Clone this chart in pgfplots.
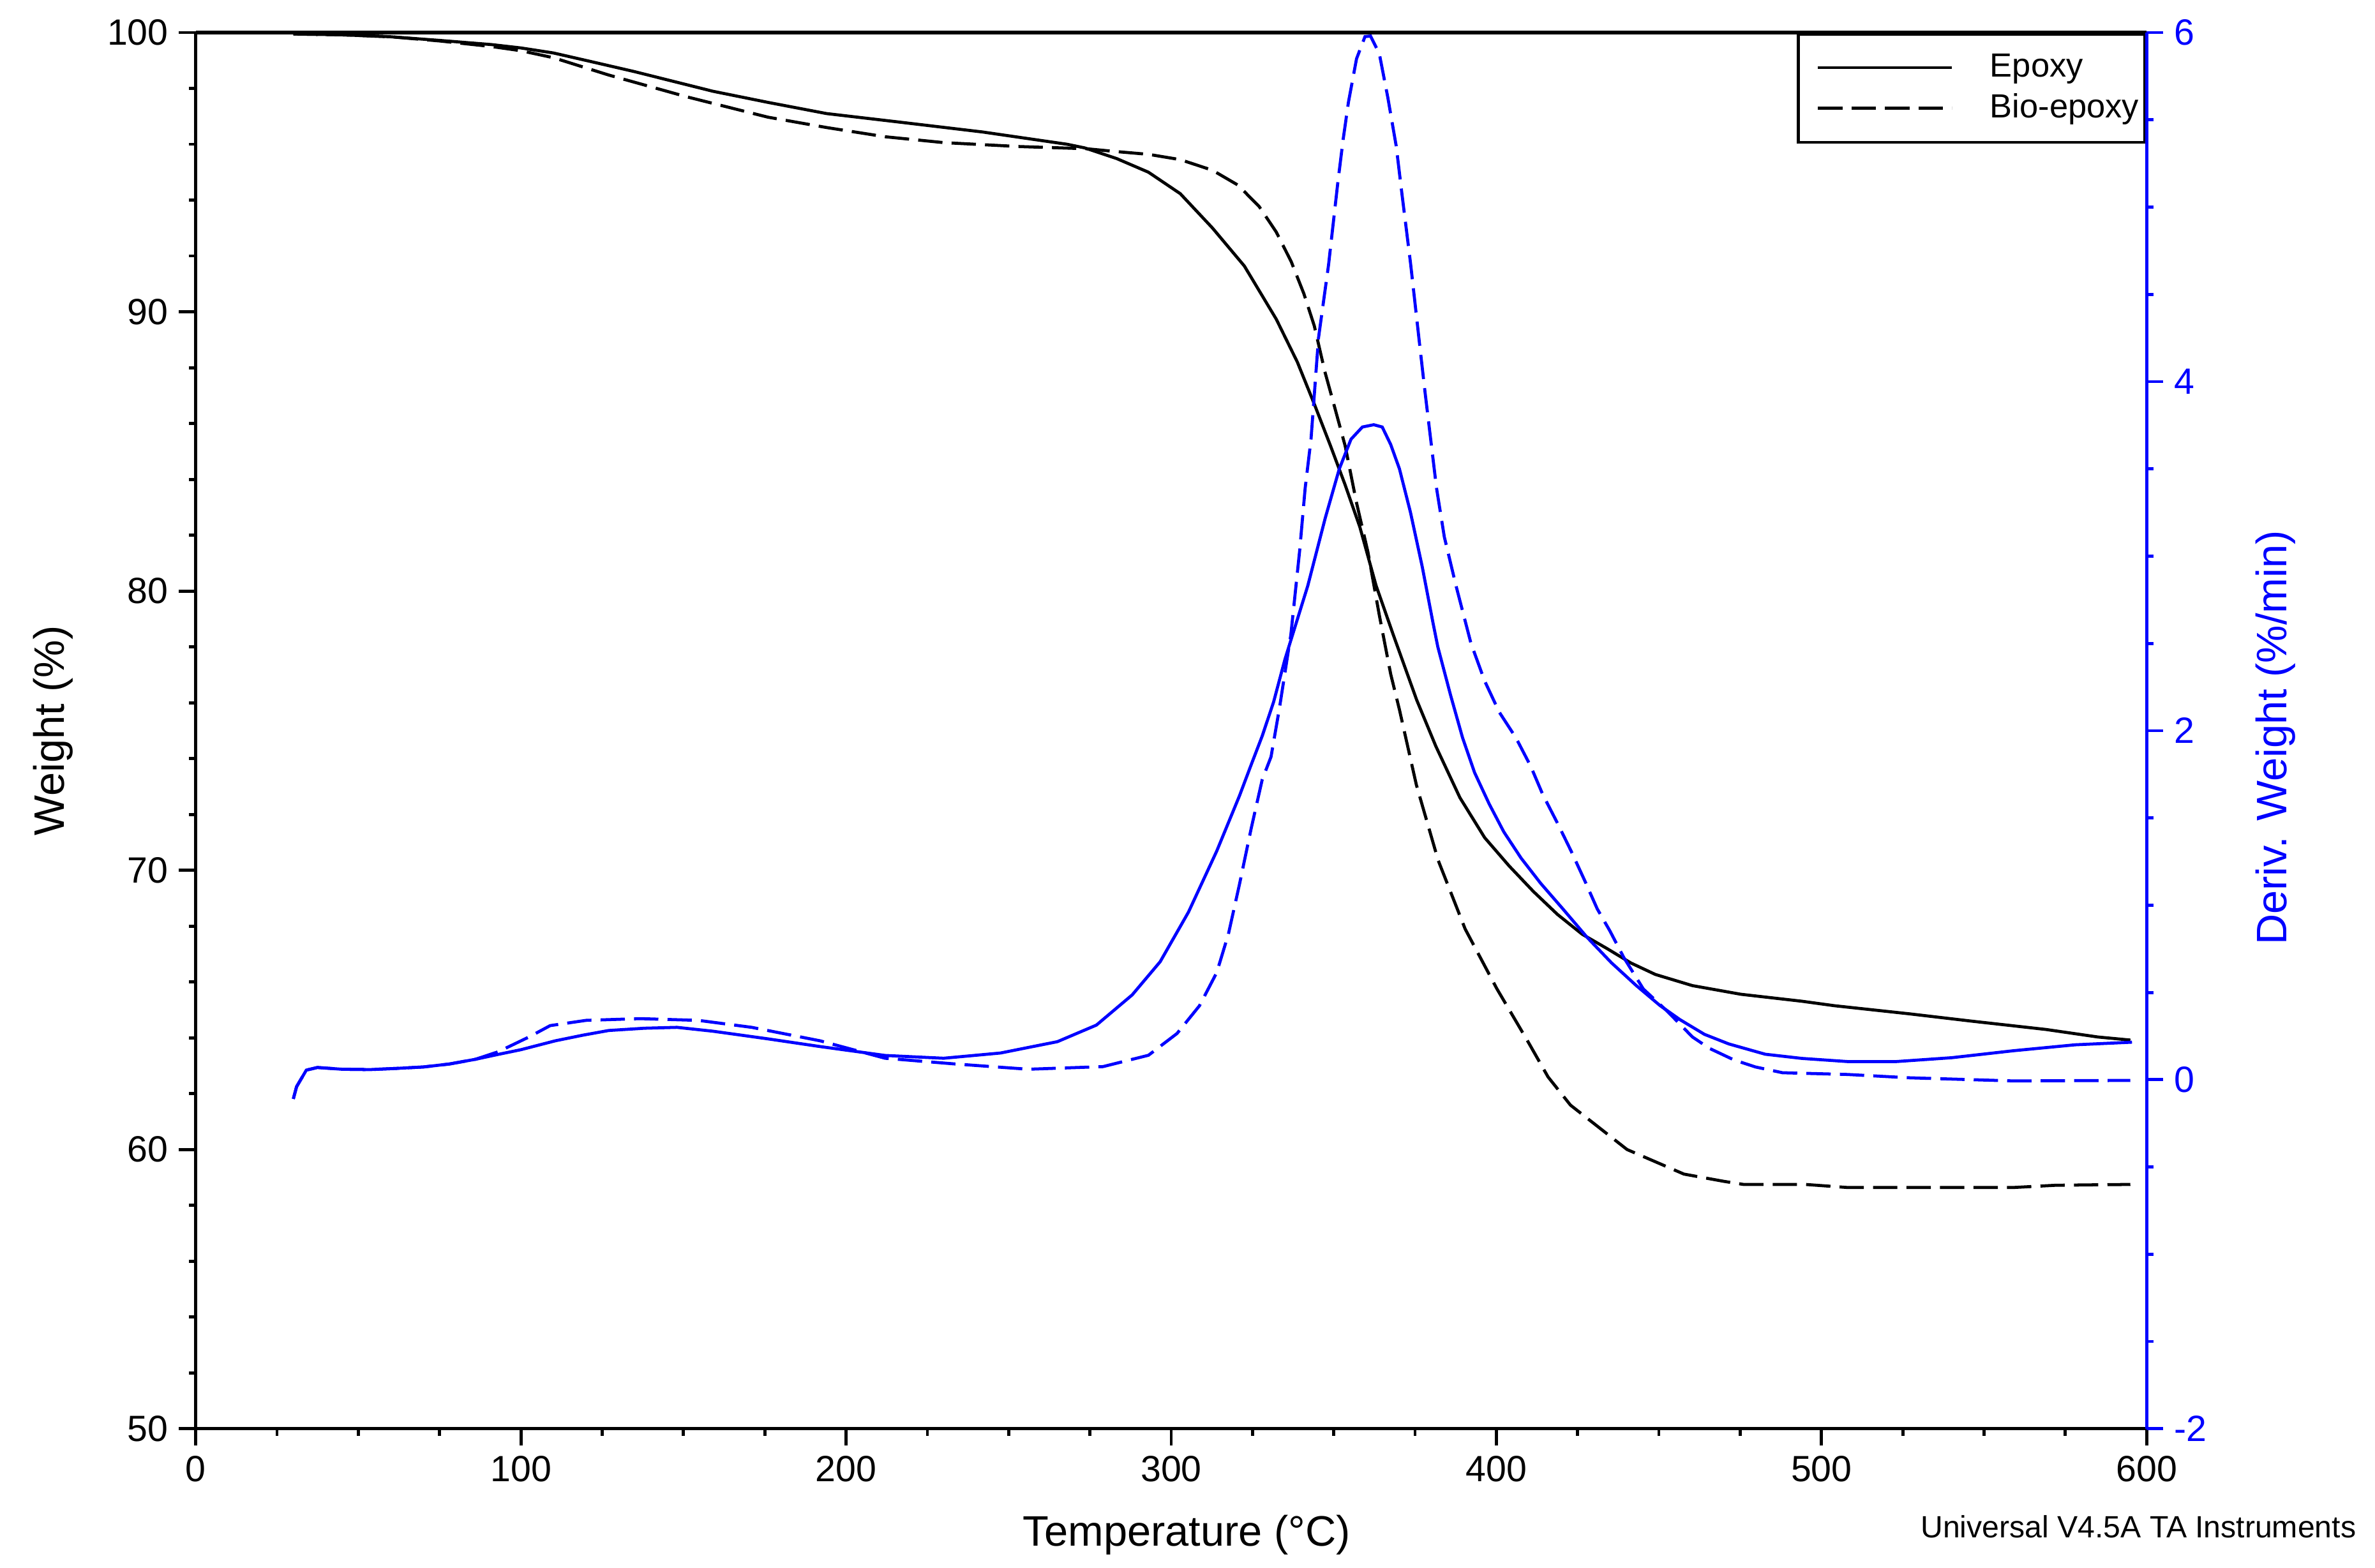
\documentclass[border=0pt]{standalone}
\usepackage{fontspec}
\setmainfont{Liberation Sans}
\usepackage{pgfplots}
\pgfplotsset{compat=1.18}

% weight curves (%)
\pgfplotstableread{
T W
30 99.95
45 99.92
60 99.85
75 99.72
91 99.57
100 99.45
110 99.27
122 98.95
135 98.6
147 98.25
159 97.9
176 97.5
194 97.1
216 96.8
242 96.44
268 96.0
273.4 95.87
283.2 95.49
293 95.0
302.8 94.23
312.7 93.0
322.5 91.64
332.3 89.74
338.8 88.2
344 86.7
349 85.2
353.5 83.8
358 82.3
363 80.2
368.4 78.4
375.5 76.1
381.4 74.44
388.8 72.6
396.4 71.17
403.9 70.16
411.4 69.24
418.8 68.42
426.4 67.71
434 67.2
441.4 66.68
448.9 66.27
460.3 65.87
475.2 65.56
494 65.31
504 65.15
527 64.86
546 64.6
569 64.3
585 64.03
595 63.92
}\epoxyW

\pgfplotstableread{
T W
30 99.95
45 99.92
60 99.85
75 99.7
91 99.5
100 99.35
110 99.1
127 98.48
151 97.7
176 96.97
194 96.6
212 96.27
230 96.06
253 95.92
274 95.84
283 95.74
293 95.64
302.8 95.45
312.7 95.07
320.5 94.54
327 93.78
332.3 92.86
336.9 91.8
340.8 90.65
344 89.5
347.3 87.84
350 86.7
353.5 85.2
357 83.16
360.5 81.4
364 79.14
367.5 77.03
370.2 75.75
375.4 73.06
382.1 70.36
390.4 67.9
400.1 65.77
409.9 63.83
415.9 62.6
422.8 61.59
440.2 60.0
457.7 59.12
470 58.86
476 58.75
495 58.75
508 58.64
559 58.64
572 58.72
595 58.75
}\bioW

% derivative curves (%/min)
\pgfplotstableread{
T D
30 -0.11
31 -0.04
34 0.055
37.4 0.07
45 0.06
53.6 0.058
62 0.065
70 0.073
78 0.09
86 0.117
93 0.145
100 0.172
110.6 0.223
119 0.255
127 0.282
138 0.295
148 0.30
159 0.278
176 0.234
192 0.19
212 0.139
230 0.123
247.5 0.153
265 0.218
277 0.313
288 0.486
296.6 0.676
305.3 0.96
314 1.31
321 1.627
324.5 1.80
328 1.97
331.5 2.165
335 2.41
342 2.83
347.4 3.22
351.7 3.50
355.3 3.67
358.8 3.74
362.3 3.753
364.9 3.74
367.5 3.64
370.2 3.50
373.6 3.25
377.2 2.94
380.6 2.61
382 2.48
385.9 2.205
389.6 1.96
393.3 1.76
397.8 1.58
402.3 1.42
407.6 1.27
413.6 1.126
420.4 0.98
427.9 0.816
435.4 0.67
443 0.54
450.4 0.424
456.5 0.344
464 0.26
471.5 0.205
482.7 0.146
494 0.122
508 0.104
523 0.104
540 0.126
559 0.166
578 0.20
595.5 0.215
}\epoxyD

\pgfplotstableread{
T D
30 -0.11
31 -0.04
34 0.055
37.4 0.07
45 0.06
53.6 0.058
62 0.065
70 0.073
78 0.09
86 0.117
93 0.16
102.5 0.245
109 0.31
120 0.34
136.6 0.35
154.6 0.34
171 0.30
192 0.223
212 0.123
233 0.091
256 0.06
279 0.075
293 0.14
301.8 0.265
308.7 0.424
314 0.614
317.6 0.835
321 1.12
324.6 1.44
328 1.72
330.7 1.85
333.3 2.13
336.8 2.55
339.5 3.03
341.2 3.39
343 3.67
345.3 4.25
348.4 4.67
351.3 5.15
352.9 5.39
354.5 5.60
357 5.85
359.6 5.977
361.3 5.98
364 5.88
366.6 5.63
369.2 5.35
371 5.07
373.6 4.68
376.3 4.23
378 3.95
379.8 3.67
381.6 3.39
384 3.11
387.6 2.83
392.2 2.5
396.4 2.285
400.9 2.106
406 1.96
410.6 1.795
414.3 1.633
418.8 1.47
423 1.31
427.2 1.14
431 0.98
435 0.85
439.2 0.70
445.2 0.52
452.7 0.39
460.3 0.245
465.5 0.18
473 0.114
479.7 0.073
488 0.04
508 0.03
527 0.011
559 -0.007
595 -0.004
}\bioD

\begin{document}
\begin{tikzpicture}
\pgfplotsset{
  tga/.style={
    width=640.7pt, height=458.6pt, scale only axis,
    xmin=0, xmax=600, xtick={0,100,...,600}, minor x tick num=3,
    tick align=outside, major tick length=5.5pt, minor tick length=2.3pt,
    /pgf/number format/assume math mode=true,
    tick label style={font=\fontsize{12}{14}\selectfont},
    axis line style={-, line width=1.1pt},
    every tick/.style={line width=1pt},
  },
}
\begin{axis}[tga, name=ax,
  axis x line*=box, axis y line*=left,
  xtick pos=left, ytick pos=left,
  ymin=50, ymax=100, ytick={50,60,...,100}, minor y tick num=4,
  xlabel={Temperature (°C)}, ylabel={Weight (\%)},
  every axis x label/.style={at={(axis description cs:0.508,-0.0759)}, anchor=center,
    font=\fontsize{14}{16}\selectfont},
  every axis y label/.style={at={(axis description cs:-0.0732,0.5)}, rotate=90, anchor=center,
    font=\fontsize{14}{16}\selectfont},
  legend style={at={(1,1)}, anchor=north east, draw=black, line width=1pt, fill=white,
    font=\fontsize{11}{13}\selectfont, inner xsep=1pt, inner ysep=4.5pt,
    nodes={inner xsep=1pt},
    /tikz/every odd column/.append style={column sep=11pt}},
  legend cell align=left,
  legend image code/.code={\path (-5pt,0pt); \draw[#1] (0pt,0pt) -- (44pt,0pt);},
]
\addplot[black, line width=1pt] table[x=T, y=W] {\epoxyW};
\addplot[black, line width=1pt, dash pattern=on 8pt off 3pt] table[x=T, y=W] {\bioW};
\legend{Epoxy, Bio-epoxy}
\end{axis}

\begin{axis}[tga,
  hide x axis, axis y line*=right, ytick pos=right,
  ymin=-2, ymax=6, ytick={-2,0,...,6}, minor y tick num=3,
  y axis line style={blue, -, line width=1.1pt},
  ytick style={blue}, yticklabel style={blue},
  ylabel={Deriv. Weight (\%/min)},
  every axis y label/.style={at={(axis description cs:1.066,0.495)}, rotate=90, anchor=center,
    blue, font=\fontsize{14}{16}\selectfont},
]
\addplot[blue, line width=1pt] table[x=T, y=D] {\epoxyD};
\addplot[blue, line width=1pt, dash pattern=on 8pt off 3pt] table[x=T, y=D] {\bioD};
\end{axis}

\node[anchor=base east, font=\fontsize{10.1}{12}\selectfont]
  at ([xshift=72.3pt, yshift=-35.8pt]ax.south east) {Universal V4.5A TA Instruments};

\pgfresetboundingbox
\path[use as bounding box] ([xshift=-64.3pt, yshift=-45.7pt]ax.south west) rectangle ++(780pt,515pt);
\end{tikzpicture}
\end{document}
